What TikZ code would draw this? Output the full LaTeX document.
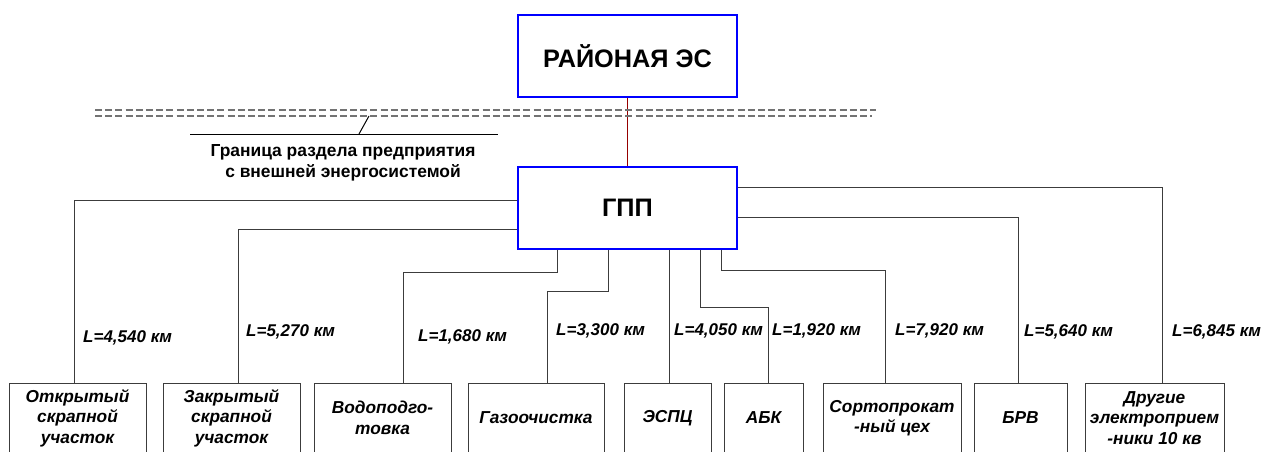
\documentclass[tikz,border=0pt]{standalone}
\usepackage{fontspec}
\setmainfont{Liberation Sans}
\usetikzlibrary{calc}
\definecolor{boxblue}{RGB}{0,0,255}
\definecolor{feedred}{RGB}{150,0,0}
\definecolor{wire}{RGB}{60,60,60}
\tikzset{
  topbox/.style={draw=boxblue, line width=1.4pt, minimum width=219pt, minimum height=82pt, inner sep=0pt,
    font=\fontsize{25.3}{30}\selectfont\bfseries},
  loadbox/.style={draw=wire, line width=1pt, minimum height=70pt, inner sep=0pt, align=center,
    font=\fontsize{17.3}{20.5}\selectfont\bfseries\itshape},
  lenlabel/.style={anchor=west, inner sep=0pt, font=\fontsize{17}{20}\selectfont\bfseries\itshape},
  wireline/.style={draw=wire, line width=1pt},
  borderline/.style={draw=black!55, line width=1.3pt, dash pattern=on 7pt off 3.2pt},
}
\begin{document}
\begin{tikzpicture}[x=1pt,y=-1pt]
\clip (0,0) rectangle (1263,452);
\fill[white] (0,0) rectangle (1263,452);

% main boxes
\node[topbox] (rajon) at (627.5,56) {РАЙОНАЯ ЭС};
\node[topbox] (gpp) at (627.5,208) {ГПП};
\draw[feedred, line width=1pt] (rajon.south) -- (gpp.north);

% border of enterprise
\coordinate (d1a) at (95,110); \coordinate (d1b) at (876,110);
\coordinate (d2a) at (95,116); \coordinate (d2b) at (872,116);
\draw[borderline] (d1a) -- (d1b);
\draw[borderline] (d2a) -- (d2b);
\coordinate (la) at (190,134); \coordinate (lb) at (498,134);
\coordinate (lk) at (359,134); \coordinate (lt) at (369,116);
\draw[black, line width=1pt] (la) -- (lb);
\draw[black, line width=1pt] (lk) -- (lt);
\node[align=center, inner sep=0pt, font=\fontsize{17.4}{21}\selectfont\bfseries] (bordertext) at (343,162.5)
  {Граница раздела предприятия\\с внешней энергосистемой};

% load boxes
\node[loadbox, minimum width=137pt] (b1) at (77.5,418) {Открытый\\скрапной\\участок};
\node[loadbox, minimum width=137pt] (b2) at (231.5,418) {Закрытый\\скрапной\\участок};
\node[loadbox, minimum width=137pt] (b3) at (382.5,418) {Водоподго-\\товка};
\node[loadbox, minimum width=136pt] (b4) at (536,418) {Газоочистка};
\node[loadbox, minimum width=87pt] (b5) at (667.5,418) {ЭСПЦ};
\node[loadbox, minimum width=79pt] (b6) at (763.5,418) {АБК};
\node[loadbox, minimum width=138pt] (b7) at (892,418) {Сортопрокат\\-ный цех};
\node[loadbox, minimum width=93pt] (b8) at (1020.5,418) {БРВ};
\node[loadbox, minimum width=139pt] (b9) at (1154.5,418) {Другие\\электроприем\\-ники 10 кв};

% connectors
\draw[wireline] ($(gpp.west)+(0,-8)$) -| ($(b1.north)+(-3.5,0)$);
\draw[wireline] ($(gpp.west)+(0,21)$) -| ($(b2.north)+(6.5,0)$);
\coordinate (k3) at (403,272);
\draw[wireline] ($(gpp.south)+(-70.5,0)$) |- (k3) -- (k3 |- b3.north);
\coordinate (k4) at (547,291);
\draw[wireline] ($(gpp.south)+(-19.5,0)$) |- (k4) -- (k4 |- b4.north);
\draw[wireline] ($(gpp.south)+(41.5,0)$) -- ($(b5.north)+(1.5,0)$);
\coordinate (k6) at (768,307);
\draw[wireline] ($(gpp.south)+(72.5,0)$) |- (k6) -- (k6 |- b6.north);
\coordinate (k7) at (885,270);
\draw[wireline] ($(gpp.south)+(93.5,0)$) |- (k7) -- (k7 |- b7.north);
\draw[wireline] ($(gpp.east)+(0,9)$) -| ($(b8.north)+(-2.5,0)$);
\draw[wireline] ($(gpp.east)+(0,-21)$) -| ($(b9.north)+(7.5,0)$);

% lengths
\node[lenlabel] (l1) at (83,338) {L=4,540 км};
\node[lenlabel] (l2) at (246,332) {L=5,270 км};
\node[lenlabel] (l3) at (418,337) {L=1,680 км};
\node[lenlabel] (l4) at (556,331) {L=3,300 км};
\node[lenlabel] (l5) at (674,331) {L=4,050 км};
\node[lenlabel] (l6) at (772,331) {L=1,920 км};
\node[lenlabel] (l7) at (895,331) {L=7,920 км};
\node[lenlabel] (l8) at (1024,332) {L=5,640 км};
\node[lenlabel] (l9) at (1172,332) {L=6,845 км};
\end{tikzpicture}
\end{document}
